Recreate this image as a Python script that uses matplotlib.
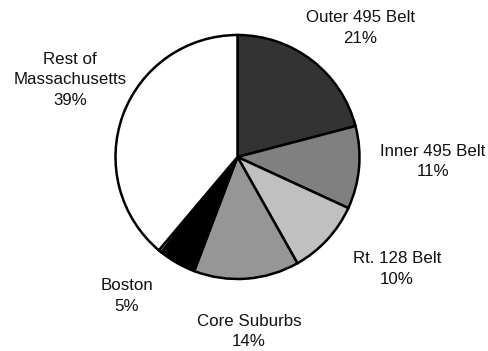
import matplotlib
matplotlib.use('Agg')

import matplotlib.pyplot as plt

# Regional shares (percent), clockwise from 12 o'clock
regions = ["Outer 495 Belt", "Inner 495 Belt", "Rt. 128 Belt", "Core Suburbs",
           "Boston", "", "Rest of\nMassachusetts"]
shares = [21, 11, 10, 14, 5, 0.4, 39]
colors = ["#333333", "#808080", "#c0c0c0", "#969696", "#000000", "#ffffff", "#ffffff"]

# Label anchors in pixel space (x, y from the bottom of the figure)
label_pos = [(360, 323), (433, 189.5), (397, 82), (249, 19.5),
             (127, 55), None, (70, 271)]

plt.rcParams['font.family'] = ['Liberation Sans', 'DejaVu Sans']

fig = plt.figure(figsize=(4.88, 3.51), dpi=100)
ax = fig.add_axes([0, 0, 1, 1])

ax.pie(shares, colors=colors, startangle=90, counterclock=False,
       center=(237.5, 194), radius=122,
       wedgeprops=dict(edgecolor='black', linewidth=1.8))

for name, val, pos in zip(regions, shares, label_pos):
    if pos is None:
        continue
    ax.text(pos[0], pos[1], f"{name}\n{val:g}%", ha='center', va='center',
            multialignment='center', fontsize=12.2, color='#111111',
            linespacing=1.45)

ax.set_xlim(0, 488)
ax.set_ylim(0, 351)
ax.set_aspect('equal')
ax.axis('off')

plt.savefig('out.png', dpi=100, facecolor='white')
